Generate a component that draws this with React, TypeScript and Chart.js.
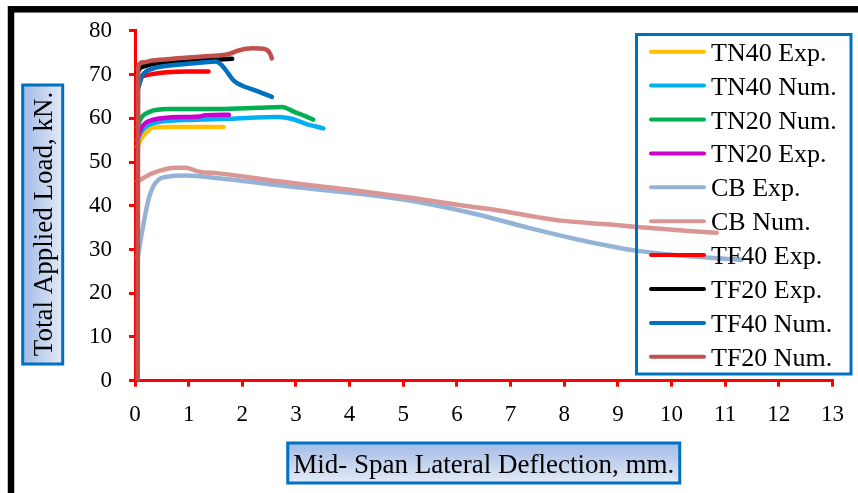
import React, { useEffect, useRef } from 'react';
import { Chart, registerables } from 'chart.js';

Chart.register(...registerables);

const seriesLabels = [
  'TN40 Exp.', 'TN40 Num.', 'TN20 Num.', 'TN20 Exp.', 'CB Exp.',
  'CB Num.', 'TF40 Exp.', 'TF20 Exp.', 'TF40 Num.', 'TF20 Num.',
];

const tn40ExpX = [0.05, 0.1, 0.2, 0.32, 0.6, 1.0, 1.65];
const tn40ExpY = [53.5, 55.0, 56.6, 57.8, 58.0, 58.0, 58.0];

const tn40NumX = [0.05, 0.1, 0.32, 0.94, 1.75, 2.67, 2.92, 3.17, 3.51];
const tn40NumY = [55.0, 56.6, 58.8, 59.6, 59.9, 60.3, 59.9, 58.8, 57.7];

const tn20NumX = [0.05, 0.1, 0.26, 0.63, 1.56, 2.3, 2.74, 2.98, 3.15, 3.32];
const tn20NumY = [58.0, 59.8, 61.4, 62.1, 62.1, 62.4, 62.6, 61.4, 60.6, 59.7];

const tn20ExpX = [0.05, 0.1, 0.32, 0.94, 1.2, 1.31, 1.75];
const tn20ExpY = [55.5, 57.4, 59.6, 60.3, 60.4, 60.7, 60.8];

const cbExpX = [0.05, 0.14, 0.26, 0.38, 0.63, 0.94, 1.56, 2.67, 4.04, 4.53, 5.3, 6.39, 7.32, 8.25, 9.3, 10.2, 11.3];
const cbExpY = [28.1, 34.6, 41.8, 45.2, 46.7, 46.9, 46.3, 44.7, 42.9, 42.2, 40.8, 38.0, 35.0, 32.3, 29.8, 28.6, 27.6];

const cbNumX = [0.05, 0.32, 0.76, 0.94, 1.19, 1.56, 2.67, 4.04, 5.27, 6.14, 6.7, 7.5, 7.94, 8.86, 9.3, 10.84];
const cbNumY = [45.6, 47.4, 48.7, 48.7, 47.8, 47.4, 45.6, 43.6, 41.6, 40.0, 39.1, 37.4, 36.6, 35.7, 35.2, 33.8];

const tf40ExpX = [0.05, 0.1, 0.2, 0.32, 0.6, 0.94, 1.37];
const tf40ExpY = [68.5, 69.4, 69.8, 70.1, 70.5, 70.7, 70.7];

const tf20ExpX = [0.05, 0.1, 0.2, 0.32, 0.8, 1.3, 1.81];
const tf20ExpY = [70.5, 71.5, 72.0, 72.4, 72.9, 73.3, 73.6];

const tf40NumX = [0.05, 0.14, 0.32, 0.6, 0.94, 1.3, 1.5, 1.62, 1.74, 1.84, 1.99, 2.24, 2.55];
const tf40NumY = [66.5, 69.8, 71.3, 72.0, 72.4, 72.8, 73.0, 72.1, 70.2, 68.6, 67.5, 66.4, 64.9];

const tf20NumX = [0.05, 0.06, 0.15, 0.32, 0.8, 1.25, 1.75, 1.93, 2.18, 2.43, 2.52, 2.55];
const tf20NumY = [0, 71.8, 72.8, 73.2, 73.7, 74.1, 74.7, 75.5, 76.0, 75.8, 74.7, 73.7];

const seriesX = [tn40ExpX, tn40NumX, tn20NumX, tn20ExpX, cbExpX, cbNumX, tf40ExpX, tf20ExpX, tf40NumX, tf20NumX];
const seriesY = [tn40ExpY, tn40NumY, tn20NumY, tn20ExpY, cbExpY, cbNumY, tf40ExpY, tf20ExpY, tf40NumY, tf20NumY];

const xTickValues = [0, 1, 2, 3, 4, 5, 6, 7, 8, 9, 10, 11, 12, 13];
const yTickValues = [0, 10, 20, 30, 40, 50, 60, 70, 80];

const xAxisTitle = 'Mid- Span Lateral Deflection, mm.';
const yAxisTitle = 'Total Applied Load, kN.';

const seriesColors = [
  '#FFC000', '#00B0F0', '#00B050', '#CC00CC', '#95B3D7',
  '#D99694', '#FF0000', '#000000', '#0070C0', '#C0504D',
];

const FONT = "'Liberation Serif', 'Times New Roman', serif";

function titleBox(ctx: CanvasRenderingContext2D, x: number, y: number, w: number, h: number, vertical: boolean) {
  const g = vertical
    ? ctx.createLinearGradient(x, 0, x + w, 0)
    : ctx.createLinearGradient(0, y, 0, y + h);
  g.addColorStop(0, '#a3bbe5');
  g.addColorStop(1, '#e3eaf7');
  ctx.fillStyle = g;
  ctx.fillRect(x, y, w, h);
  ctx.strokeStyle = '#0070C0';
  ctx.lineWidth = 3;
  ctx.strokeRect(x, y, w, h);
}

const decorPlugin = {
  id: 'decor',
  beforeDraw(chart: any) {
    const ctx: CanvasRenderingContext2D = chart.ctx;
    const ca = chart.chartArea;
    ctx.save();
    ctx.fillStyle = '#ffffff';
    ctx.fillRect(0, 0, chart.width, chart.height);
    ctx.strokeStyle = '#000000';
    ctx.lineWidth = 6.5;
    ctx.strokeRect(11, 9.3, 1200, 1200);

    // y title
    titleBox(ctx, 22.7, 85, 40, 279, true);
    ctx.save();
    ctx.translate(51.5, 224);
    ctx.rotate(-Math.PI / 2);
    ctx.fillStyle = '#000';
    ctx.font = `27px ${FONT}`;
    ctx.textAlign = 'center';
    ctx.textBaseline = 'alphabetic';
    ctx.fillText(yAxisTitle, 0, 0);
    ctx.restore();

    // x title
    const cx = (ca.left + ca.right) / 2;
    titleBox(ctx, cx - 196, 443, 392, 40, false);
    ctx.fillStyle = '#000';
    ctx.font = `27px ${FONT}`;
    ctx.textAlign = 'center';
    ctx.textBaseline = 'alphabetic';
    ctx.fillText(xAxisTitle, cx, 473.3);
    ctx.restore();
  },
  afterDraw(chart: any) {
    const ctx: CanvasRenderingContext2D = chart.ctx;
    ctx.save();
    ctx.strokeStyle = '#0070C0';
    ctx.lineWidth = 3;
    ctx.strokeRect(636.5, 34.5, 214.5, 339.5);
    const ds = chart.data.datasets;
    ctx.font = `26px ${FONT}`;
    ctx.textAlign = 'left';
    ctx.textBaseline = 'alphabetic';
    for (let i = 0; i < ds.length; i++) {
      const y = 51.7 + i * 33.9;
      ctx.strokeStyle = ds[i].borderColor;
      ctx.lineWidth = 4;
      ctx.lineCap = 'round';
      ctx.beginPath();
      ctx.moveTo(651, y);
      ctx.lineTo(704, y);
      ctx.stroke();
      ctx.fillStyle = '#000';
      ctx.fillText(ds[i].label, 711, y + 9);
    }
    ctx.restore();
  },
};

export default function App() {
  const ref = useRef<HTMLCanvasElement | null>(null);

  useEffect(() => {
    if (!ref.current) return;
    const datasets = seriesLabels.map((label, i) => ({
      label,
      data: seriesX[i].map((x, j) => ({ x, y: seriesY[i][j] })),
      borderColor: seriesColors[i],
      backgroundColor: seriesColors[i],
      borderWidth: 4.5,
      pointRadius: 0,
      fill: false,
      cubicInterpolationMode: 'monotone' as const,
      borderCapStyle: 'round' as const,
      borderJoinStyle: 'round' as const,
      order: 10 - i,
    }));

    const axisCommon = {
      type: 'linear' as const,
      grid: {
        drawOnChartArea: false,
        drawTicks: true,
        tickLength: 6,
        color: '#FF0000',
        lineWidth: 3,
      },
      border: { display: true, color: '#FF0000', width: 3 },
    };

    const chart = new Chart(ref.current, {
      type: 'line',
      data: { datasets },
      plugins: [decorPlugin],
      options: {
        animation: false,
        responsive: false,
        devicePixelRatio: 1,
        layout: { padding: { top: 28, right: 22, left: 0, bottom: 0 } },
        plugins: {
          legend: { display: false },
          tooltip: { enabled: false },
          title: { display: false },
        },
        scales: {
          x: {
            ...axisCommon,
            min: 0,
            max: 13,
            afterBuildTicks: (s: any) => {
              s.ticks = xTickValues.map((v) => ({ value: v }));
            },
            afterFit: (s: any) => {
              s.height = 112.3;
            },
            ticks: {
              color: '#000',
              padding: 14,
              autoSkip: false,
              maxRotation: 0,
              font: { family: FONT, size: 23 },
            },
          },
          y: {
            ...axisCommon,
            min: 0,
            max: 80,
            afterBuildTicks: (s: any) => {
              s.ticks = yTickValues.map((v) => ({ value: v }));
            },
            afterFit: (s: any) => {
              s.width = 135;
            },
            ticks: {
              color: '#000',
              padding: 17,
              autoSkip: false,
              font: { family: FONT, size: 23 },
            },
          },
        },
      },
    });
    return () => chart.destroy();
  }, []);

  return (
    <div style={{ position: 'absolute', left: 0, top: 0, width: 858, height: 493 }}>
      <canvas ref={ref} width={858} height={493} />
    </div>
  );
}
